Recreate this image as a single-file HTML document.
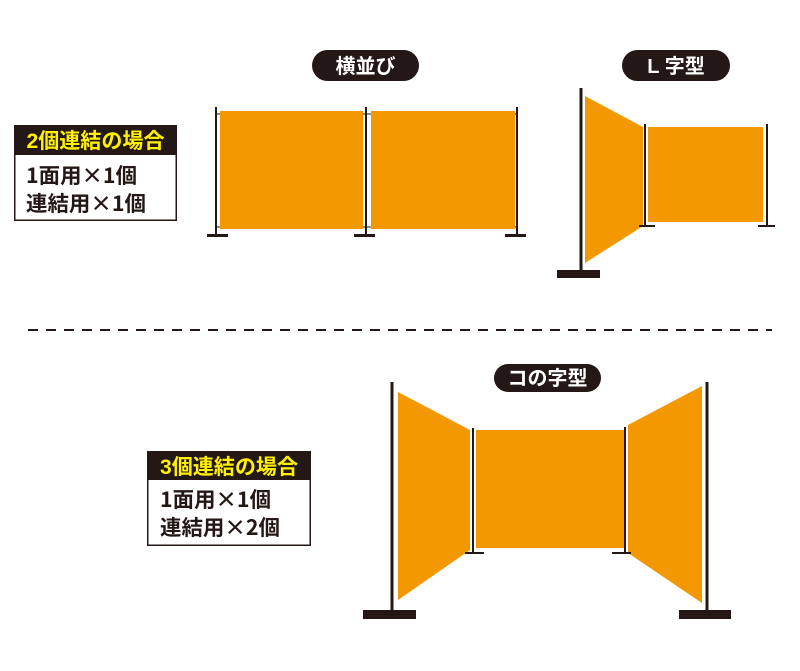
<!DOCTYPE html>
<html><head><meta charset="utf-8"><style>
html,body{margin:0;padding:0;background:#fff;}
svg{display:block;}
text{font-family:"Liberation Sans","Noto Sans CJK JP",sans-serif;font-weight:bold;}
.j{font-family:"Noto Sans CJK JP",sans-serif;}
</style></head><body>
<svg width="800" height="671" viewBox="0 0 800 671" xmlns="http://www.w3.org/2000/svg">
<g fill="#f39800">
<rect x="220" y="111" width="143" height="118"/>
<rect x="371" y="111" width="144" height="118"/>
<polygon points="585,96 643,127 643,226 585,263"/>
<rect x="648" y="127" width="115" height="95"/>
<polygon points="398,392 470,430 470,550 398,600"/>
<rect x="476" y="430" width="148" height="118"/>
<polygon points="628,425 702,386 702,603 628,553"/>
</g>
<g stroke="#231815" fill="none">
<line x1="216" y1="107" x2="216" y2="235" stroke-width="2"/>
<line x1="366" y1="107" x2="366" y2="235" stroke-width="2"/>
<line x1="517" y1="107" x2="517" y2="235" stroke-width="2"/>
<line x1="216" y1="114" x2="220" y2="114"/><line x1="216" y1="227" x2="220" y2="227"/>
<line x1="363" y1="114" x2="371" y2="114"/><line x1="363" y1="227" x2="371" y2="227"/>
<line x1="515" y1="114" x2="517" y2="114"/><line x1="515" y1="227" x2="517" y2="227"/>
<line x1="581" y1="88" x2="581" y2="273" stroke-width="3"/>
<line x1="645" y1="124" x2="645" y2="226" stroke-width="2"/>
<line x1="767" y1="124" x2="767" y2="226" stroke-width="2"/>
<line x1="392" y1="382" x2="392" y2="610" stroke-width="3"/>
<line x1="473" y1="428" x2="473" y2="553" stroke-width="2"/>
<line x1="625" y1="427" x2="625" y2="553" stroke-width="2"/>
<line x1="707" y1="382" x2="707" y2="610" stroke-width="3"/>
<line x1="28" y1="330" x2="772" y2="330" stroke-width="2" stroke-dasharray="10 8"/>
</g>
<g fill="#231815">
<rect x="207" y="234" width="21" height="3"/>
<rect x="354" y="234" width="21" height="3"/>
<rect x="505" y="234" width="21" height="3"/>
<rect x="557" y="270" width="43" height="8"/>
<rect x="639" y="225" width="16" height="2"/>
<rect x="758" y="225" width="17" height="2"/>
<rect x="363" y="610" width="53" height="9"/>
<rect x="465" y="552" width="19" height="2"/>
<rect x="612" y="552" width="19" height="2"/>
<rect x="679" y="610" width="52" height="9"/>
<rect x="312" y="50" width="107" height="31" rx="15.5"/>
<rect x="622" y="50" width="108" height="31" rx="15.5"/>
<rect x="494" y="364" width="107" height="28" rx="14"/>
<rect x="14" y="125" width="163" height="30"/>
<rect x="147" y="451" width="164" height="29"/>
</g>
<g fill="#fff" font-size="20">
<text x="365.5" y="73" text-anchor="middle">横並び</text>
<text x="676" y="73" text-anchor="middle">L 字型</text>
<text x="547.5" y="385" text-anchor="middle">コの字型</text>
</g>
<rect x="14.75" y="125.75" width="161.5" height="94.5" fill="none" stroke="#231815" stroke-width="1.5"/>
<rect x="147.75" y="451.75" width="162.5" height="93.5" fill="none" stroke="#231815" stroke-width="1.5"/>
<g fill="#fff100" font-size="21">
<text x="95.5" y="148" text-anchor="middle" textLength="138" lengthAdjust="spacingAndGlyphs">2個連結の場合</text>
<text x="229" y="474" text-anchor="middle" textLength="138" lengthAdjust="spacingAndGlyphs">3個連結の場合</text>
</g>
<g fill="#231815" font-size="21" class="j">
<text class="j" x="26" y="183" textLength="111" lengthAdjust="spacingAndGlyphs">1面用×1個</text>
<text class="j" x="26" y="211" textLength="120" lengthAdjust="spacingAndGlyphs">連結用×1個</text>
<text class="j" x="160" y="507" textLength="111" lengthAdjust="spacingAndGlyphs">1面用×1個</text>
<text class="j" x="160" y="535" textLength="120" lengthAdjust="spacingAndGlyphs">連結用×2個</text>
</g>
</svg>
</body></html>
